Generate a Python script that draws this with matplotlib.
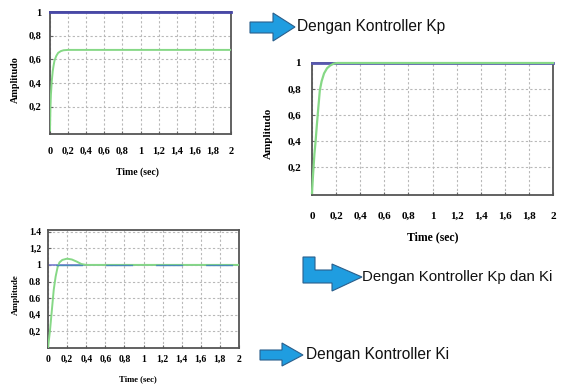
import matplotlib
matplotlib.use("Agg")
import matplotlib.pyplot as plt
from matplotlib.patches import Polygon

# step response data
t_ref = [0, 2]
y_ref = [1, 1]

t_kp = [0, 0.005, 0.01, 0.02, 0.03, 0.04, 0.05, 0.07, 0.09, 0.12, 0.15, 0.2, 2.0]
y_kp = [0, 0.2, 0.3, 0.42, 0.5, 0.55, 0.59, 0.63, 0.655, 0.67, 0.677, 0.68, 0.68]

t_kpki = [0, 0.008, 0.02, 0.03, 0.04, 0.05, 0.065, 0.08, 0.1, 0.125, 0.15, 0.18, 0.21, 2.0]
y_kpki = [0, 0.13, 0.3, 0.4, 0.52, 0.63, 0.79, 0.86, 0.92, 0.96, 0.98, 0.995, 1.0, 1.0]

t_ki = [0, 0.02, 0.04, 0.06, 0.08, 0.1, 0.12, 0.15, 0.2, 0.25, 0.3, 0.35, 0.4, 2.0]
y_ki = [0, 0.2, 0.45, 0.7, 0.86, 0.97, 1.03, 1.06, 1.075, 1.065, 1.04, 1.01, 1.0, 1.0]

x_ticks = [0, 0.2, 0.4, 0.6, 0.8, 1.0, 1.2, 1.4, 1.6, 1.8, 2.0]
x_labels = ["0", "0,2", "0,4", "0,6", "0,8", "1", "1,2", "1,4", "1,6", "1,8", "2"]
y_ticks = [0.2, 0.4, 0.6, 0.8, 1.0]
y_labels = ["0,2", "0,4", "0,6", "0,8", "1"]
y_ticks_ki = [0.2, 0.4, 0.6, 0.8, 1.0, 1.2, 1.4]
y_labels_ki = ["0,2", "0,4", "0.6", "0.8", "1", "1,2", "1.4"]

captions = ["Dengan Kontroller Kp", "Dengan Kontroller Kp dan Ki", "Dengan Kontroller Ki"]

W, H = 561, 385
fig = plt.figure(figsize=(W / 100, H / 100), dpi=100)
fig.patch.set_facecolor("white")

serif = ["Liberation Serif", "DejaVu Serif"]
sans = ["Liberation Sans", "DejaVu Sans"]

GREEN = "#86d886"
BLUE = "#4848a8"


def box(l, t, r, b):
    # pixel box -> figure fraction
    return [l / W, 1 - b / H, (r - l) / W, (b - t) / H]


def setup(ax, ylim, yt, yl, fs, xpad, ypad):
    ax.set_xlim(0, 2)
    ax.set_ylim(*ylim)
    ax.set_xticks(x_ticks)
    ax.set_xticklabels(x_labels)
    ax.set_yticks(yt)
    ax.set_yticklabels(yl)
    ax.grid(True, linestyle=(0, (2, 2)), color="#b8b8b8", linewidth=0.8)
    ax.tick_params(direction="in", length=2.5, color="#666666")
    ax.tick_params(axis="x", pad=xpad)
    ax.tick_params(axis="y", pad=ypad)
    for lab in ax.get_xticklabels() + ax.get_yticklabels():
        lab.set_fontfamily(serif)
        lab.set_fontweight("bold")
        lab.set_fontsize(fs)
    for s in ax.spines.values():
        s.set_color("#555555")
        s.set_linewidth(1.3)


# plot 1 (top left)
ax1 = fig.add_axes(box(50, 12, 231, 134))
ax1.plot(t_ref, y_ref, color=BLUE, lw=2, zorder=5, clip_on=False)
ax1.plot(t_kp, y_kp, color=GREEN, lw=1.4, zorder=4)
setup(ax1, (-0.03, 1.0), y_ticks, y_labels, 7.5, 9, 6)
fig.text(15 / W, 1 - 80 / H, "Amplitudo", rotation=90, ha="center", va="center",
         family=serif, weight="bold", fontsize=7.3)
fig.text(137 / W, 1 - 172 / H, "Time (sec)", ha="center", va="center",
         family=serif, weight="bold", fontsize=7)

# plot 2 (top right)
ax2 = fig.add_axes(box(312, 63, 553, 195))
ax2.plot(t_ref, y_ref, color="#5858b0", lw=2, zorder=4, clip_on=False)
ax2.plot(t_kpki, y_kpki, color=GREEN, lw=1.6, zorder=5, clip_on=False)
setup(ax2, (-0.015, 1.0), y_ticks, y_labels, 8, 12, 8)
fig.text(268 / W, 1 - 133 / H, "Amplitudo", rotation=90, ha="center", va="center",
         family=serif, weight="bold", fontsize=8)
fig.text(433 / W, 1 - 237 / H, "Time (sec)", ha="center", va="center",
         family=serif, weight="bold", fontsize=8.5)

# plot 3 (bottom left)
ax3 = fig.add_axes(box(48, 230, 239, 348))
ax3.plot(t_ref, y_ref, color="#7b7fd0", lw=1.2, zorder=2)
ax3.plot(t_ki, y_ki, color=GREEN, lw=1.4, zorder=3)
ax3.plot(t_ref, y_ref, color="#4a8ab8", lw=1.0, zorder=4,
         linestyle=(30.5, (19.4, 16.6)))
setup(ax3, (0, 1.42), y_ticks_ki, y_labels_ki, 7, 5, 5)
fig.text(16 / W, 1 - 295 / H, "Amplitude", rotation=90, ha="center", va="center",
         family=serif, weight="bold", fontsize=6.5)
fig.text(138 / W, 1 - 379 / H, "Time (sec)", ha="center", va="center",
         family=serif, weight="bold", fontsize=6.2)


# block arrows
def px(pts):
    return [(x / W, 1 - y / H) for x, y in pts]


ARROW_FC = "#1f9de0"
ARROW_EC = "#2b5f8c"

arrow1 = [(250, 22), (273, 22), (273, 13), (295, 27), (273, 41), (273, 33), (250, 33)]
arrow2 = [(303, 257), (315, 257), (315, 270), (332, 270), (332, 264), (362, 277),
          (332, 291), (332, 283), (303, 283)]
arrow3 = [(260, 350), (282, 350), (282, 343), (303, 355), (282, 366), (282, 360), (260, 360)]

for pts in (arrow1, arrow2, arrow3):
    fig.patches.append(Polygon(px(pts), closed=True, transform=fig.transFigure,
                               facecolor=ARROW_FC, edgecolor=ARROW_EC, lw=0.8))

fig.text(297 / W, 1 - 27 / H, captions[0], ha="left", va="center",
         family=sans, fontsize=11.2, color="#111111")
fig.text(362 / W, 1 - 277 / H, captions[1], ha="left", va="center",
         family=sans, fontsize=10.8, color="#111111")
fig.text(306 / W, 1 - 355 / H, captions[2], ha="left", va="center",
         family=sans, fontsize=11.2, color="#111111")

fig.savefig("out.png", dpi=100, facecolor="white")
